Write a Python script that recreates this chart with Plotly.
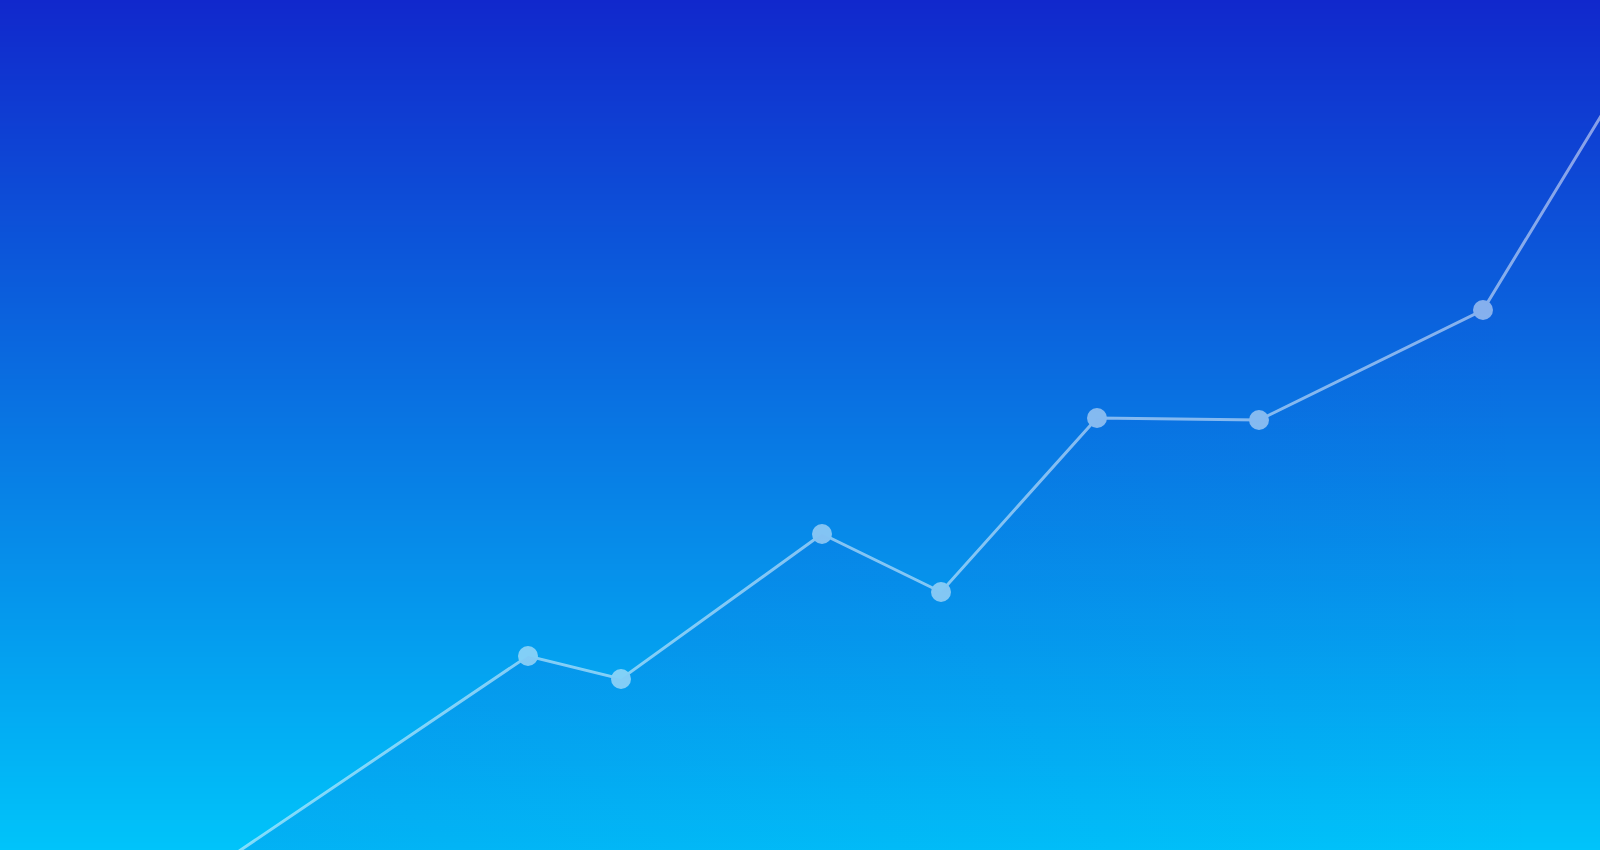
import plotly.graph_objects as go

# ---- data ----
x_values = [1.0, 5.28, 6.21, 8.22, 9.41, 10.97, 12.59, 14.83, 17.0]
y_values = [-9.5, 19.4, 17.1, 31.6, 25.8, 43.2, 43.0, 54.0, 89.7]

# background gradient stops (top -> bottom)
bg_top = "#1128CC"
bg_bottom = "#00C4FA"
bg_rows = list(range(201))

W, H = 1600, 850
X_RANGE = [0, 16]
Y_RANGE = [0, 85]

fig = go.Figure()

# background gradient (drawn first, underneath)
fig.add_trace(go.Heatmap(
    z=[[r, r] for r in bg_rows],
    x=X_RANGE,
    y=[Y_RANGE[0] + (Y_RANGE[1] - Y_RANGE[0]) * r / (len(bg_rows) - 1) for r in bg_rows],
    colorscale=[[0, bg_bottom], [1, bg_top]],
    zsmooth="best",
    showscale=False,
    hoverinfo="skip",
))

# faint area under the line
fig.add_trace(go.Scatter(
    x=x_values,
    y=y_values,
    mode="lines",
    line=dict(width=0, color="rgba(0,0,0,0)"),
    fill="tozeroy",
    fillgradient=dict(
        type="horizontal",
        start=2.4,
        stop=15.5,
        colorscale=[[0, "rgba(20,45,200,0.12)"], [1, "rgba(20,45,200,0.0)"]],
    ),
    hoverinfo="skip",
    showlegend=False,
))

# line with markers
fig.add_trace(go.Scatter(
    x=x_values,
    y=y_values,
    mode="lines+markers",
    line=dict(color="white", width=3),
    marker=dict(color="white", size=20, line=dict(width=0)),
    opacity=0.5,
    hoverinfo="skip",
    showlegend=False,
))

axis_off = dict(visible=False, showgrid=False, zeroline=False, fixedrange=True)
fig.update_layout(
    width=W,
    height=H,
    margin=dict(l=0, r=0, t=0, b=0),
    paper_bgcolor=bg_top,
    plot_bgcolor="rgba(0,0,0,0)",
    showlegend=False,
    xaxis=dict(range=X_RANGE, **axis_off),
    yaxis=dict(range=Y_RANGE, **axis_off),
)

fig.write_html(
    "out.html",
    config={"displayModeBar": False},
    post_script="document.body.style.margin='0';document.body.style.overflow='hidden';",
)
